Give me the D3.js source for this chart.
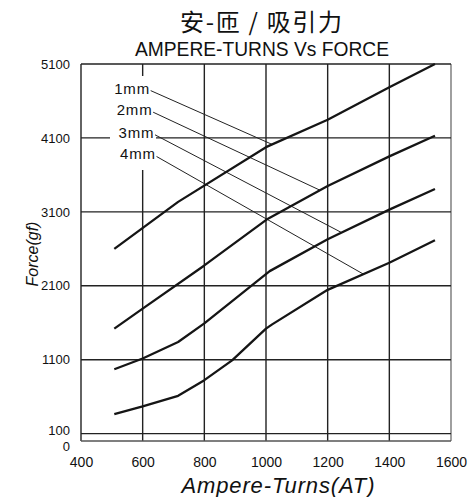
<!DOCTYPE html>
<html>
<head>
<meta charset="utf-8">
<script src="https://cdn.jsdelivr.net/npm/d3@7"></script>
<style>
  html, body { margin: 0; padding: 0; background: #fff; }
  svg { display: block; }
  text { font-family: "Liberation Sans", Arial, sans-serif; fill: #111; }
</style>
</head>
<body>
<svg id="chart" width="470" height="497"></svg>
<script>
// ---- data ----
const titleCN = "安-匝 / 吸引力";
const titleEN = "AMPERE-TURNS Vs FORCE";
const xTitle = "Ampere-Turns(AT)";
const yTitle = "Force(gf)";
const xTicks = [400, 600, 800, 1000, 1200, 1400, 1600];
const yTicks = [0, 100, 1100, 2100, 3100, 4100, 5100];
const gapLabels = ["1mm", "2mm", "3mm", "4mm"];

const at1 = [508, 715, 1000, 1200, 1400, 1548];
const f1  = [2600, 3235, 3975, 4345, 4785, 5100];
const at2 = [508, 600, 800, 1002, 1200, 1400, 1548];
const f2  = [1520, 1790, 2375, 2995, 3450, 3850, 4130];
const at3 = [508, 600, 715, 800, 1012, 1200, 1400, 1548];
const f3  = [970, 1116, 1340, 1592, 2298, 2730, 3130, 3410];
const at4 = [508, 600, 715, 800, 890, 1000, 1020, 1200, 1400, 1548];
const f4  = [364, 468, 611, 823, 1090, 1520, 1578, 2045, 2411, 2716];

// leader lines: start (near label) and end AT on the curve
const leaderStartAT = [626, 634, 640, 645];
const leaderStartF  = [4740, 4448, 4142, 3849];
const leaderEndAT   = [1020, 1175, 1245, 1316];

// ---- drawing ----
const svg = d3.select("#chart");
const x = d3.scaleLinear().domain([400, 1600]).range([81, 451]);
const y = d3.scaleLinear().domain([0, 5100]).range([441, 64]);

const series = [[at1, f1], [at2, f2], [at3, f3], [at4, f4]];

// grid
const grid = svg.append("g");
grid.selectAll("line.v").data(xTicks).join("line")
  .attr("x1", d => x(d)).attr("x2", d => x(d))
  .attr("y1", y(5100)).attr("y2", y(0))
  .attr("stroke", d => d === 1600 ? "#888" : "#222")
  .attr("stroke-width", d => d === 1600 ? 1.6 : 1.4);
grid.selectAll("line.h").data(yTicks).join("line")
  .attr("x1", x(400)).attr("x2", x(1600))
  .attr("y1", d => y(d)).attr("y2", d => y(d))
  .attr("stroke", d => (d === 0) ? "#555" : "#222")
  .attr("stroke-width", 1.4);

// y axis (labels only)
const yAxis = d3.axisLeft(y).tickValues(yTicks).tickSize(0).tickPadding(11)
  .tickFormat(d3.format("d"));
const ga = svg.append("g").attr("transform", `translate(${x(400)},0)`).call(yAxis);
ga.select(".domain").remove();
ga.selectAll("text").style("font-size", "13px")
  .attr("font-family", "Liberation Sans, Arial, sans-serif").attr("fill", "#111")
  .attr("dy", d => d === 0 ? "0.72em" : d === 100 ? "0.1em" : "0.32em");

// x axis (labels only)
const xAxis = d3.axisBottom(x).tickValues(xTicks).tickSize(0).tickPadding(16)
  .tickFormat(d3.format("d"));
const gx = svg.append("g").attr("transform", `translate(0,${y(0)})`).call(xAxis);
gx.select(".domain").remove();
gx.selectAll("text").style("font-size", "14px")
  .attr("font-family", "Liberation Sans, Arial, sans-serif").attr("fill", "#111");

// white box behind labels
svg.append("rect").attr("x", 110).attr("y", 76).attr("width", 46).attr("height", 94)
  .attr("fill", "#fff");

// gap labels
svg.selectAll("text.gap").data(gapLabels).join("text")
  .attr("class", "gap")
  .attr("x", (d, i) => x(leaderStartAT[i]) - 1.5)
  .attr("y", (d, i) => y(leaderStartF[i]) + 3)
  .attr("text-anchor", "end")
  .attr("textLength", 35).attr("lengthAdjust", "spacing")
  .style("font-size", "15px")
  .text(d => d);

// leader lines
function interp(ats, fs, a) {
  for (let i = 0; i < ats.length - 1; i++) {
    if (a >= ats[i] && a <= ats[i + 1]) {
      const t = (a - ats[i]) / (ats[i + 1] - ats[i]);
      return fs[i] + t * (fs[i + 1] - fs[i]);
    }
  }
  return fs[fs.length - 1];
}
svg.selectAll("line.leader").data(gapLabels).join("line")
  .attr("x1", (d, i) => x(leaderStartAT[i]))
  .attr("y1", (d, i) => y(leaderStartF[i]))
  .attr("x2", (d, i) => x(leaderEndAT[i]))
  .attr("y2", (d, i) => y(interp(series[i][0], series[i][1], leaderEndAT[i])))
  .attr("stroke", "#222").attr("stroke-width", 1);

// curves
const line = d3.line().x(d => x(d[0])).y(d => y(d[1]));
svg.selectAll("path.curve").data(series).join("path")
  .attr("d", s => line(s[0].map((a, i) => [a, s[1][i]])))
  .attr("fill", "none").attr("stroke", "#151515").attr("stroke-width", 2.3)
  .attr("stroke-linejoin", "round");

// titles
svg.append("text").attr("x", 261).attr("y", 31).attr("text-anchor", "middle")
  .style("font-family", "'Noto Sans CJK SC', sans-serif").style("font-size", "24px")
  .attr("textLength", 162).attr("lengthAdjust", "spacing")
  .text(titleCN);
svg.append("text").attr("x", 262).attr("y", 56).attr("text-anchor", "middle")
  .style("font-size", "21px")
  .attr("textLength", 254).attr("lengthAdjust", "spacingAndGlyphs")
  .text(titleEN);
svg.append("text").attr("x", 278).attr("y", 493).attr("text-anchor", "middle")
  .style("font-size", "22px").style("font-style", "italic")
  .attr("textLength", 193).attr("lengthAdjust", "spacing")
  .text(xTitle);
svg.append("text").attr("transform", "translate(38,254) rotate(-90)")
  .attr("text-anchor", "middle")
  .style("font-size", "16px").style("font-style", "italic")
  .text(yTitle);
</script>
</body>
</html>
